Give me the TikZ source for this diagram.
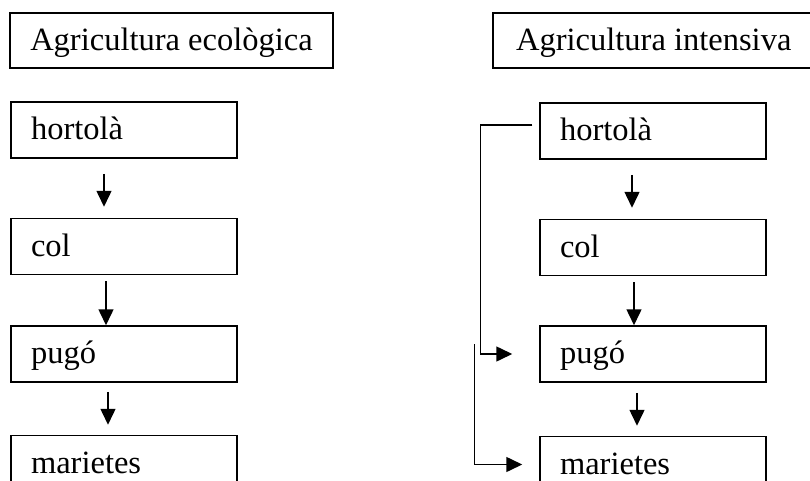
\documentclass[tikz,border=0pt]{standalone}
\usepackage{fontspec}
\setmainfont{Liberation Serif}
\usetikzlibrary{positioning, arrows.meta}
\tikzset{
    titlebox/.style={
        rectangle,
        draw,
        line width=1.5pt, % 边框
        inner xsep=20.5pt,
        inner ysep=0pt,
        minimum height=55pt,
        text height=26pt,
        text depth=6.5pt,
        font=\fontsize{32.5}{39}\selectfont
    },
    flowbox/.style={
        rectangle,
        draw,
        line width=1.5pt,
        inner xsep=20pt,
        inner ysep=0pt,
        text width=186pt,
        minimum height=56pt,
        align=flush left,
        text height=26pt,
        text depth=6.5pt,
        font=\fontsize{32.5}{39}\selectfont
    },
    downarrow/.style={
        -{Triangle[length=16pt,width=15pt]},
        line width=1.5pt
    }
}
\begin{document}
\begin{tikzpicture}[x=1pt, y=1pt]
    \useasboundingbox (0,0) rectangle (810,480);
    % títols
    \node[titlebox, anchor=west] (tl) at (9,439.5) {Agricultura ecològica};
    \node[titlebox, anchor=west, minimum width=322pt] (tr) at (492,439.5) {Agricultura intensiva};
    % agricultura ecològica
    \node[flowbox] (l1) at (124,350) {hortolà};
    \node[flowbox, below=59pt of l1] (l2) {col};
    \node[flowbox, below=50pt of l2] (l3) {pugó};
    \node[flowbox, below=52pt of l3] (l4) {marietes};
    \draw[downarrow, shorten <=15pt, shorten >=11pt]
        ([xshift=-20pt]l1.south) -- ([xshift=-20pt]l2.north);
    \draw[downarrow, shorten <=6pt]
        ([xshift=-18pt]l2.south) -- ([xshift=-18pt]l3.north);
    \draw[downarrow, shorten <=9pt, shorten >=10pt]
        ([xshift=-16pt]l3.south) -- ([xshift=-16pt]l4.north);
    % agricultura intensiva
    \node[flowbox] (r1) at (653,349) {hortolà};
    \node[flowbox, below=59pt of r1] (r2) {col};
    \node[flowbox, below=49pt of r2] (r3) {pugó};
    \node[flowbox, below=53pt of r3] (r4) {marietes};
    \draw[downarrow, shorten <=15pt, shorten >=11pt]
        ([xshift=-21pt]r1.south) -- ([xshift=-21pt]r2.north);
    \draw[downarrow, shorten <=6pt]
        ([xshift=-19pt]r2.south) -- ([xshift=-19pt]r3.north);
    \draw[downarrow, shorten <=10pt, shorten >=10pt]
        ([xshift=-16pt]r3.south) -- ([xshift=-16pt]r4.north);
    % connexions laterals
    \coordinate (bend) at ([xshift=-59pt,yshift=6pt]r1.west);
    \draw[downarrow, shorten >=27pt]
        ([xshift=-7pt,yshift=6pt]r1.west) -- (bend) |- (r3.west);
    \coordinate (split) at ([xshift=-65pt,yshift=10pt]r3.west);
    \draw[downarrow, shorten >=17pt] (split) |- (r4.west);
\end{tikzpicture}
\end{document}
